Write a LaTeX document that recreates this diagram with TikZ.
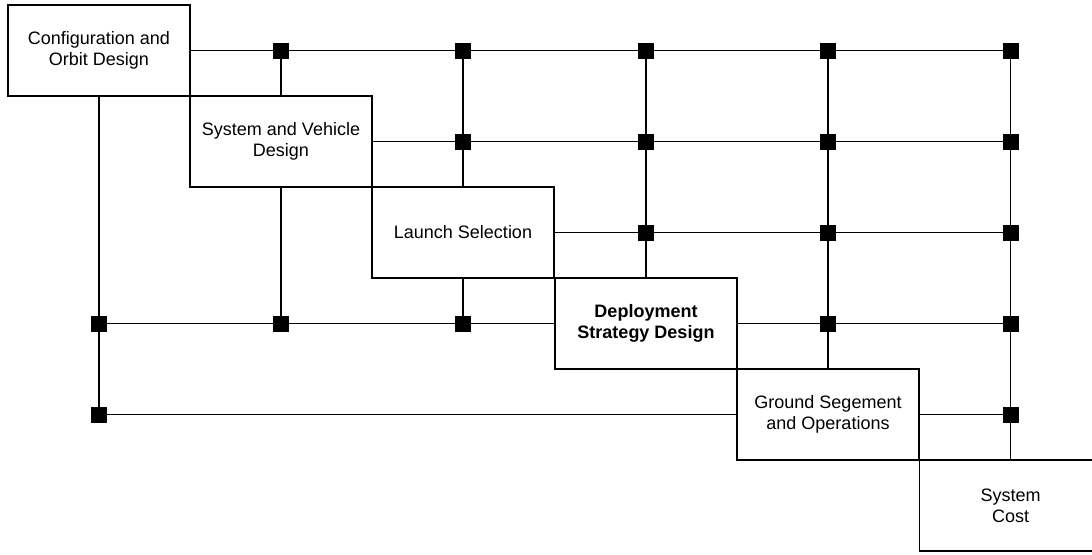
\documentclass[tikz,border=0pt]{standalone}
\usepackage{fontspec}
\setmainfont{Liberation Sans}
\usepackage{tikz}

\begin{document}
\begin{tikzpicture}[x=0.75pt,y=-0.75pt,
            box/.style={draw,line width=1.1pt,minimum width=136.5pt,minimum height=68.25pt,
                inner sep=0pt,align=center,font=\fontsize{13.5}{15.5}\selectfont},
            sq/.style={rectangle,fill=black,inner sep=0pt,minimum size=12pt},
            link/.style={line width=1.1pt}]

        \clip (0,0) rectangle (1092,554);

        \node [box] at (99, 50.5) (b1) {Configuration and\\Orbit Design};
        \node [box] at (281, 141.5) (b2) {System and Vehicle\\Design};
        \node [box] at (463, 232.5) (b3) {Launch Selection};
        \node [box, font=\fontsize{13.5}{15.5}\selectfont\bfseries] at (646, 323.5) (b4) {Deployment\\Strategy Design};
        \node [box] at (828, 414.5) (b5) {Ground Segement\\and Operations};
        \node [box] at (1010.5, 505.5) (b6) {System\\Cost};

        \node [sq] at (281, 50.5) (s12) {};
        \node [sq] at (463, 50.5) (s13) {};
        \node [sq] at (646, 50.5) (s14) {};
        \node [sq] at (828, 50.5) (s15) {};
        \node [sq] at (1010.5, 50.5) (s16) {};
        \node [sq] at (463, 141.5) (s23) {};
        \node [sq] at (646, 141.5) (s24) {};
        \node [sq] at (828, 141.5) (s25) {};
        \node [sq] at (1010.5, 141.5) (s26) {};
        \node [sq] at (646, 232.5) (s34) {};
        \node [sq] at (828, 232.5) (s35) {};
        \node [sq] at (1010.5, 232.5) (s36) {};
        \node [sq] at (99, 323.5) (s41) {};
        \node [sq] at (281, 323.5) (s42) {};
        \node [sq] at (463, 323.5) (s43) {};
        \node [sq] at (828, 323.5) (s45) {};
        \node [sq] at (1010.5, 323.5) (s46) {};
        \node [sq] at (99, 414.5) (s51) {};
        \node [sq] at (1010.5, 414.5) (s56) {};

        % rows
        \draw [link] (b1.east) -- (s16.center);
        \draw [link] (b2.east) -- (s26.center);
        \draw [link] (b3.east) -- (s36.center);
        \draw [link] (s41.center) -- (b4.west);
        \draw [link] (b4.east) -- (s46.center);
        \draw [link] (s51.center) -- (b5.west);
        \draw [link] (b5.east) -- (s56.center);

        % columns
        \draw [link] (b1.south) -- (s51.center);
        \draw [link] (s12.center) -- (b2.north);
        \draw [link] (b2.south) -- (s42.center);
        \draw [link] (s13.center) -- (b3.north);
        \draw [link] (b3.south) -- (s43.center);
        \draw [link] (s14.center) -- (b4.north);
        \draw [link] (s15.center) -- (b5.north);
        \draw [link] (s16.center) -- (b6.north);

    \end{tikzpicture}
\end{document}
